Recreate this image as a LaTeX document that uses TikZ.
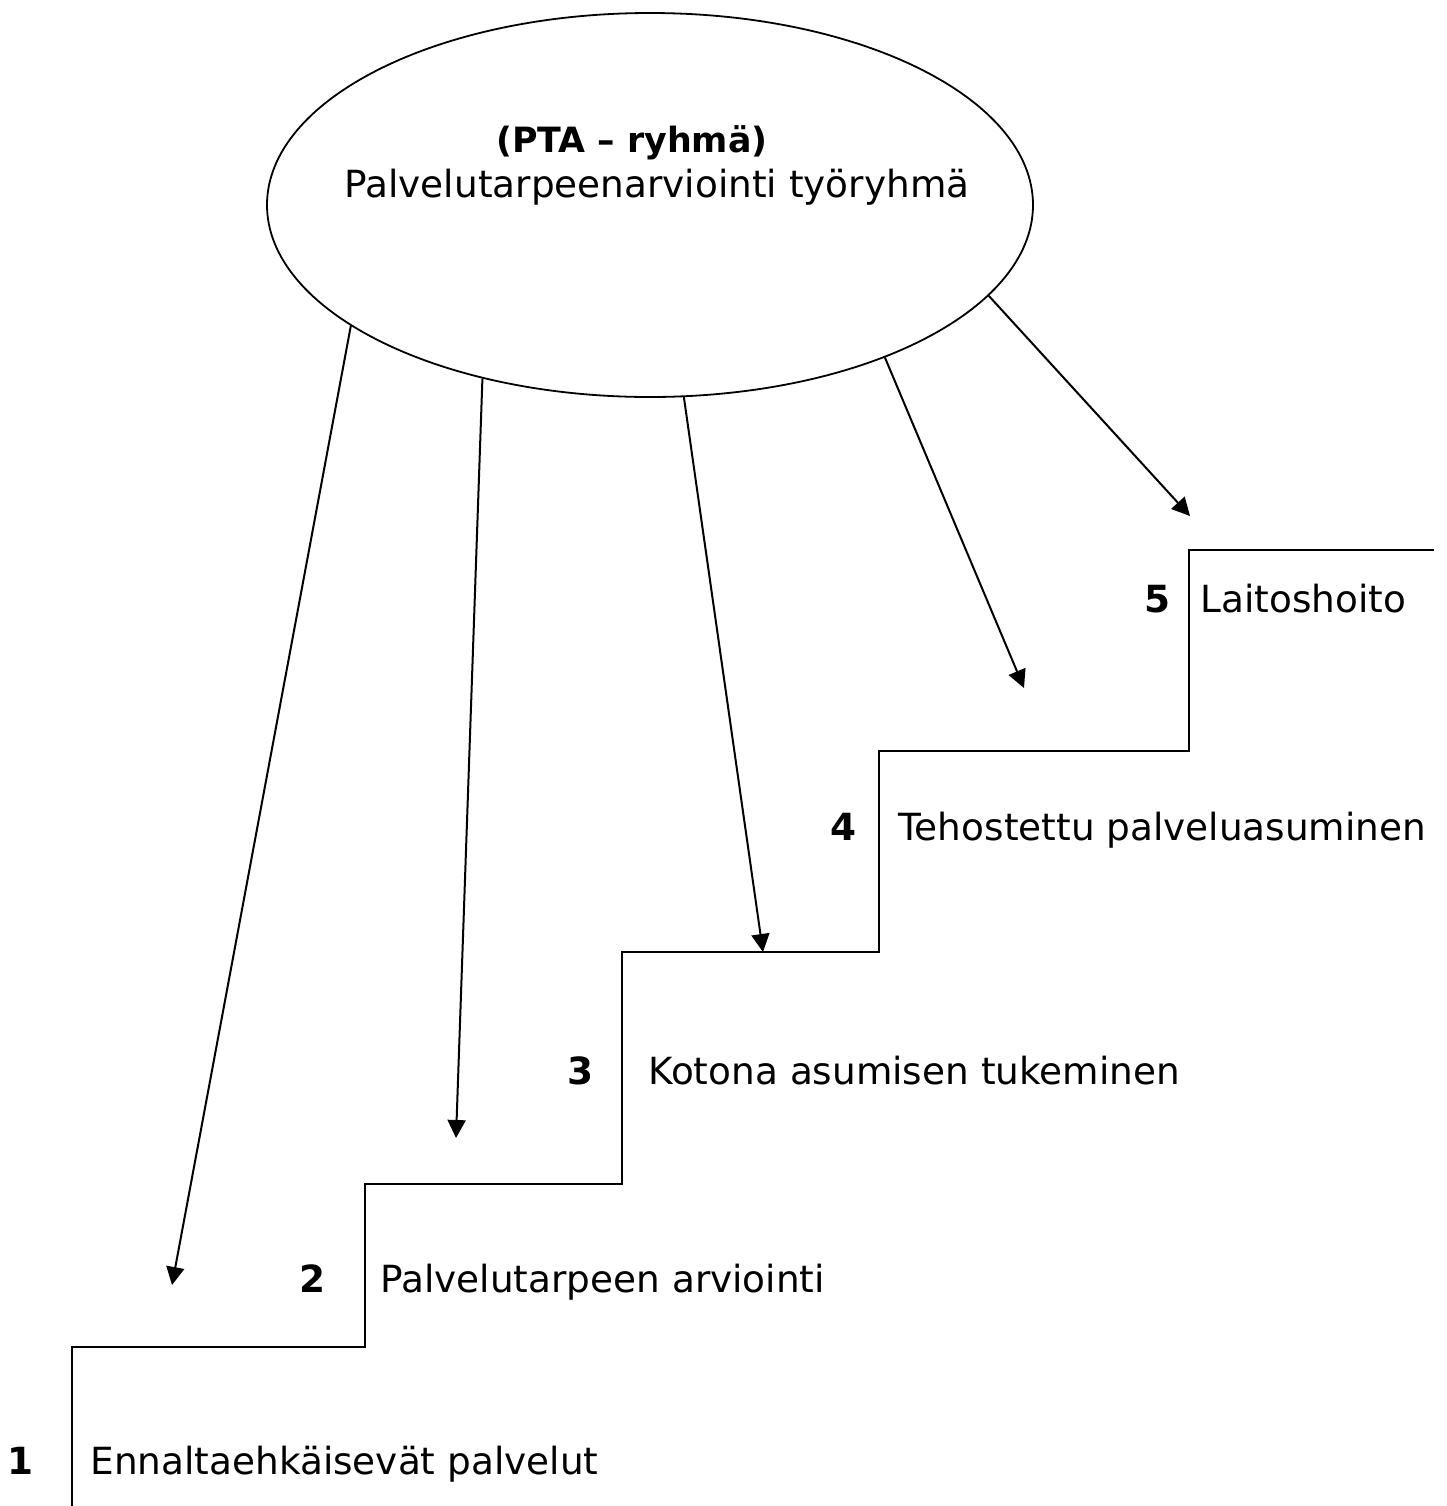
\documentclass[tikz,border=0pt]{standalone}
\usepackage{fontspec}
\setmainfont{DejaVu Sans}
\usetikzlibrary{shapes,arrows.meta}
\usetikzlibrary{positioning}
\tikzstyle{stairline}=[line width=1pt, line join=miter]
\tikzstyle{myarrow}=[-{Triangle[length=9pt,width=9pt]}, line width=1pt]
\tikzstyle{group}=[draw, ellipse, line width=0.9pt, inner sep=0pt]
\tikzstyle{level}=[anchor=base west, inner sep=0pt, font=\fontsize{18.7}{22}\selectfont]
\tikzstyle{num}=[anchor=base, inner sep=0pt, font=\fontsize{18.7}{22}\selectfont\bfseries]

\begin{document}
\begin{tikzpicture}[x=0.5pt, y=-0.5pt]
    \useasboundingbox (0,0) rectangle (1447,1506);

    \node[group, minimum width=383pt, minimum height=192pt] (pta) at (650,205) {};
    \node[anchor=base, inner sep=0pt, font=\fontsize{17.4}{20}\selectfont\bfseries] (ptaname) at (632,152) {(PTA – ryhmä)};
    \node[anchor=base, inner sep=0pt, font=\fontsize{18.7}{22}\selectfont] (ptatext) at (657,197) {Palvelutarpeenarviointi työryhmä};

    % portaat
    \draw[stairline] (72,1506) -- (72,1347) -- (365,1347) -- (365,1184) -- (622,1184)
        -- (622,952) -- (879,952) -- (879,751) -- (1189,751) -- (1189,550) -- (1434,550);

    \node[num] (n1) at (21,1474) {1};
    \node[level] (l1) at (90,1474) {Ennaltaehkäisevät palvelut};
    \node[num] (n2) at (313,1292) {2};
    \node[level] (l2) at (380,1292) {Palvelutarpeen arviointi};
    \node[num] (n3) at (581,1084) {3};
    \node[level] (l3) at (648,1084) {Kotona asumisen tukeminen};
    \node[num] (n4) at (844,840) {4};
    \node[level] (l4) at (898,840) {Tehostettu palveluasuminen};
    \node[num] (n5) at (1158,612) {5};
    \node[level] (l5) at (1200,612) {Laitoshoito};

    \coordinate (e1) at (172,1285);
    \coordinate (e2) at (456,1138);
    \coordinate (e3) at (763,952);
    \coordinate (e4) at (1024,688);
    \coordinate (e5) at (1190,516);

    \draw[myarrow] (pta.202) -- (e1);
    \draw[myarrow] (pta.226) -- (e2);
    \draw[myarrow] (pta.280) -- (e3);
    \draw[myarrow] (pta.327) -- (e4);
    \draw[myarrow] (pta.345) -- (e5);
\end{tikzpicture}
\end{document}
